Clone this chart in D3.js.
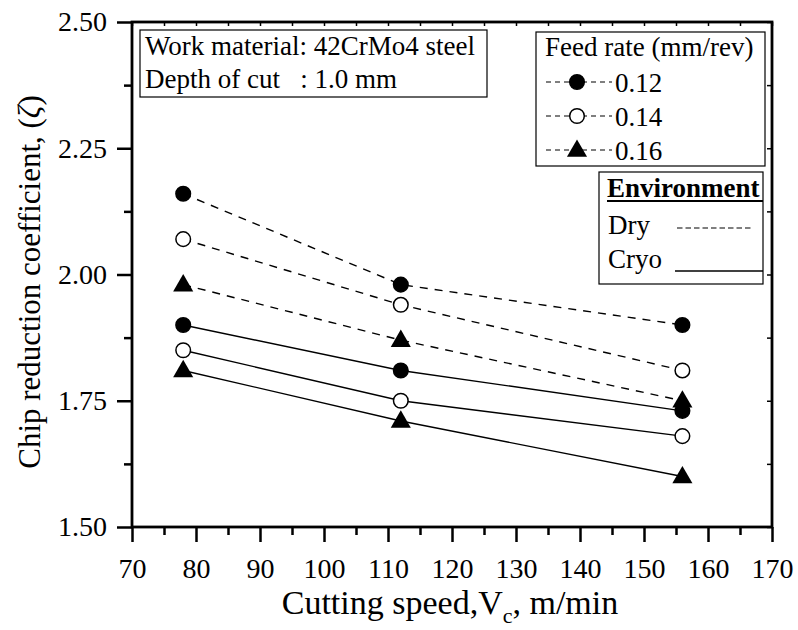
<!DOCTYPE html>
<html>
<head>
<meta charset="utf-8">
<script src="https://cdn.jsdelivr.net/npm/d3@7"></script>
<style>
  body { margin: 0; background: #fff; }
  svg text { font-family: "Liberation Serif", "Times New Roman", serif; fill: #000; }
</style>
</head>
<body>
<svg id="chart" width="798" height="630"></svg>
<script>
// Values
const speeds = [78, 112, 156]
const feedRates = ['0.12', '0.14', '0.16']
const dry012 = [2.16, 1.98, 1.90]
const dry014 = [2.07, 1.94, 1.81]
const dry016 = [1.98, 1.87, 1.75]
const cryo012 = [1.90, 1.81, 1.73]
const cryo014 = [1.85, 1.75, 1.68]
const cryo016 = [1.81, 1.71, 1.60]
const xTicks = [70, 80, 90, 100, 110, 120, 130, 140, 150, 160, 170]
const xMinorTicks = [75, 85, 95, 105, 115, 125, 135, 145, 155, 165]
const yTicks = [1.50, 1.75, 2.00, 2.25, 2.50]
const yMinorTicks = [1.625, 1.875, 2.125, 2.375]

const svg = d3.select('#chart')
const plotLeft = 132, plotRight = 772, plotTop = 22, plotBottom = 527

const xScale = d3.scaleLinear().domain([70, 170]).range([plotLeft, plotRight])
const yScale = d3.scaleLinear().domain([1.5, 2.5]).range([plotBottom, plotTop])

// series table built from the arrays above
const series = [
  { values: dry012, feed: 0, env: 'dry' },
  { values: dry014, feed: 1, env: 'dry' },
  { values: dry016, feed: 2, env: 'dry' },
  { values: cryo012, feed: 0, env: 'cryo' },
  { values: cryo014, feed: 1, env: 'cryo' },
  { values: cryo016, feed: 2, env: 'cryo' }
]

/**
 * Draws the marker for a feed rate at (cx, cy)
 */
function drawMarker (g, feed, cx, cy) {
  if (feed === 2) {
    g.append('path')
      .attr('d', d3.symbol(d3.symbolTriangle, 175)())
      .attr('transform', 'translate(' + cx + ',' + (cy + 1) + ')')
      .attr('fill', '#000')
  } else {
    g.append('circle')
      .attr('cx', cx).attr('cy', cy).attr('r', 7.3)
      .attr('fill', feed === 0 ? '#000' : '#fff')
      .attr('stroke', '#000').attr('stroke-width', 1.5)
  }
}

// Axes: major ticks outside on left / bottom
const xAxis = svg.append('g').attr('transform', 'translate(0,' + plotBottom + ')')
  .call(d3.axisBottom(xScale).tickValues(xTicks).tickSize(15).tickPadding(16).tickFormat(d3.format('d')))
const xMinor = svg.append('g').attr('transform', 'translate(0,' + plotBottom + ')')
  .call(d3.axisBottom(xScale).tickValues(xMinorTicks).tickSize(8).tickFormat(''))
const yAxis = svg.append('g').attr('transform', 'translate(' + plotLeft + ',0)')
  .call(d3.axisLeft(yScale).tickValues(yTicks).tickSize(15).tickPadding(10).tickFormat(d3.format('.2f')))
const yMinor = svg.append('g').attr('transform', 'translate(' + plotLeft + ',0)')
  .call(d3.axisLeft(yScale).tickValues(yMinorTicks).tickSize(8).tickFormat(''))
// small inward ticks on top / right
const topTicks = svg.append('g').attr('transform', 'translate(0,' + plotTop + ')')
  .call(d3.axisBottom(xScale).tickValues(xTicks.concat(xMinorTicks)).tickSize(4).tickFormat(''))
const rightTicks = svg.append('g').attr('transform', 'translate(' + plotRight + ',0)')
  .call(d3.axisLeft(yScale).tickValues(yTicks.concat(yMinorTicks)).tickSize(5).tickFormat(''))

for (const ax of [xAxis, xMinor, yAxis, yMinor, topTicks, rightTicks]) {
  ax.select('.domain').remove()
  ax.selectAll('line').attr('stroke', '#000').attr('stroke-width', 2.5)
  ax.selectAll('text').attr('font-size', 28)
}
topTicks.selectAll('line').attr('stroke-width', 1.5)
rightTicks.selectAll('line').attr('stroke-width', 1.5)

// frame
svg.append('rect')
  .attr('x', plotLeft).attr('y', plotTop)
  .attr('width', plotRight - plotLeft).attr('height', plotBottom - plotTop)
  .attr('fill', 'none').attr('stroke', '#000').attr('stroke-width', 2.8)

// axis titles
svg.append('text')
  .attr('x', (plotLeft + plotRight) / 2 - 2).attr('y', 614)
  .attr('text-anchor', 'middle').attr('font-size', 34)
  .html('Cutting speed,V<tspan font-size="22" dy="9">c</tspan><tspan dy="-9">, m/min</tspan>')

svg.append('text')
  .attr('transform', 'translate(40,282) rotate(-90)')
  .attr('text-anchor', 'middle').attr('font-size', 31)
  .html('Chip reduction coefficient, (<tspan font-style="italic">ζ</tspan>)')

// data lines and markers
const line = d3.line().x((d, i) => xScale(speeds[i])).y(d => yScale(d))
const plot = svg.append('g')
series.forEach(s => {
  plot.append('path')
    .attr('d', line(s.values))
    .attr('fill', 'none').attr('stroke', '#000').attr('stroke-width', 1.4)
    .attr('stroke-dasharray', s.env === 'dry' ? '8,7' : null)
})
series.forEach(s => {
  s.values.forEach((v, i) => drawMarker(plot, s.feed, xScale(speeds[i]), yScale(v)))
})

// legend: work material box
const info = svg.append('g')
info.append('rect').attr('x', 140).attr('y', 30).attr('width', 347).attr('height', 67)
  .attr('fill', '#fff').attr('stroke', '#000').attr('stroke-width', 1.2)
info.append('text').attr('x', 145).attr('y', 55).attr('font-size', 27)
  .text('Work material: 42CrMo4 steel')
info.append('text').attr('x', 145).attr('y', 88).attr('font-size', 27)
  .attr('xml:space', 'preserve').style('white-space', 'pre')
  .text('Depth of cut   : 1.0 mm')

// legend: feed rate
const feed = svg.append('g')
feed.append('rect').attr('x', 536).attr('y', 32).attr('width', 229).attr('height', 134)
  .attr('fill', '#fff').attr('stroke', '#000').attr('stroke-width', 1.2)
feed.append('text').attr('x', 545).attr('y', 56).attr('font-size', 27).text('Feed rate (mm/rev)')
feedRates.forEach((f, i) => {
  const cy = 82 + i * 34
  feed.append('line').attr('x1', 546).attr('x2', 612).attr('y1', cy).attr('y2', cy)
    .attr('stroke', '#000').attr('stroke-width', 1.2).attr('stroke-dasharray', '5,4')
  drawMarker(feed, i, 577, cy)
  feed.append('text').attr('x', 615).attr('y', cy + 10).attr('font-size', 27).text(f)
})

// legend: environment
const env = svg.append('g')
env.append('rect').attr('x', 599).attr('y', 172).attr('width', 164).attr('height', 112)
  .attr('fill', '#fff').attr('stroke', '#000').attr('stroke-width', 1.2)
env.append('text').attr('x', 607).attr('y', 197).attr('font-size', 27).attr('font-weight', 'bold')
  .text('Environment')
env.append('line').attr('x1', 607).attr('x2', 763).attr('y1', 201).attr('y2', 201)
  .attr('stroke', '#000').attr('stroke-width', 2)
env.append('text').attr('x', 608).attr('y', 234).attr('font-size', 27).text('Dry')
env.append('line').attr('x1', 677).attr('x2', 753).attr('y1', 228).attr('y2', 228)
  .attr('stroke', '#000').attr('stroke-width', 1.2).attr('stroke-dasharray', '5.5,3')
env.append('text').attr('x', 608).attr('y', 268).attr('font-size', 27).text('Cryo')
env.append('line').attr('x1', 675).attr('x2', 763).attr('y1', 271).attr('y2', 271)
  .attr('stroke', '#000').attr('stroke-width', 1.5)
</script>
</body>
</html>
